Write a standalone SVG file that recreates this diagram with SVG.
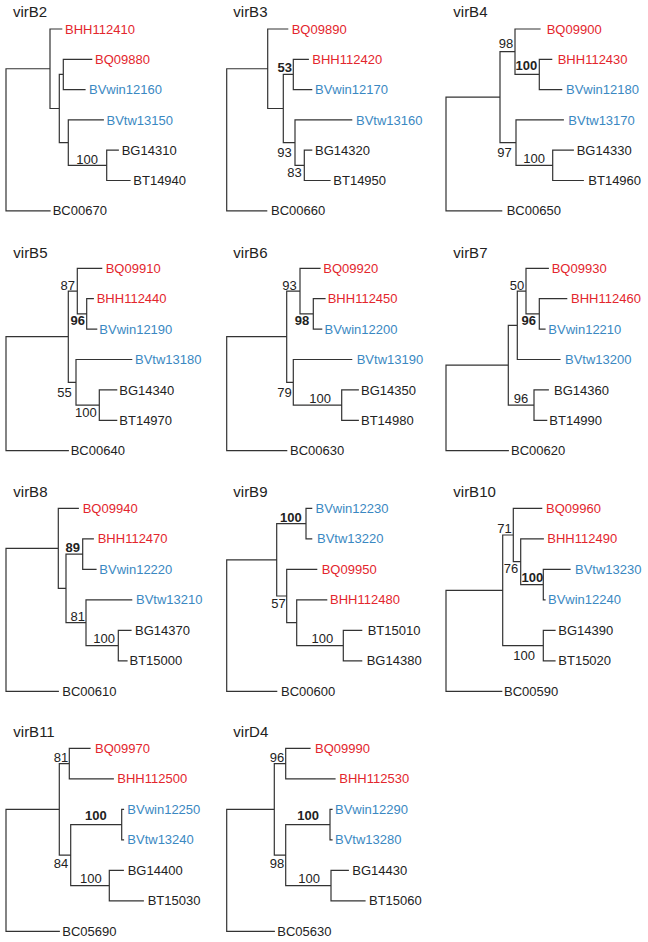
<svg xmlns="http://www.w3.org/2000/svg" width="648" height="942" viewBox="0 0 648 942">
<style>
text{font-family:"Liberation Sans",Arial,Helvetica,sans-serif;font-size:13px;fill:#222}
.t{font-size:15px}
.r{fill:#e3262d}
.b{fill:#3a88c2}
.s{text-anchor:end}
.w{font-weight:bold}
.br{fill:none;stroke:#333;stroke-width:1.2;stroke-linecap:square}
</style>
<rect width="648" height="942" fill="#fff"/>

<!-- virB2 -->
<g id="virB2" transform="translate(0,0)">
<g class="connectors"><path class="br" d="M50,68.75H6V210.8H50M61.7,29H50V108.5H59.3M63.3,74.45H59.3V142.6H68.3M91.7,59.3H63.3V89.6H85M103.3,119.9H68.3V165.35H106.7M118.3,150.2H106.7V180.5H130"/></g>
<text class="t" x="13" y="16.7">virB2</text>
<text id="BHH112410" class="r" x="65" y="33.6">BHH112410</text>
<text id="BQ09880" class="r" x="95" y="63.9">BQ09880</text>
<text id="BVwin12160" class="b" x="89" y="94.2">BVwin12160</text>
<text id="BVtw13150" class="b" x="106.5" y="124.5">BVtw13150</text>
<text id="BG14310" x="121.7" y="154.8">BG14310</text>
<text id="BT14940" x="133.3" y="185.1">BT14940</text>
<text id="BC00670" x="52.7" y="215.4">BC00670</text>
<text class="s" x="98" y="163.5">100</text>
</g>

<!-- virB3 -->
<g id="virB3" transform="translate(215,0)">
<g class="connectors"><path class="br" d="M52.7,68.75H11.7V210.8H51.7M72.7,29H52.7V108.5H68.3M78.3,74.45H68.3V142.6H80M93.3,59.3H78.3V89.6H96.7M136.7,119.9H80V165.35H89.3M96.7,150.2H89.3V180.5H115"/></g>
<text class="t" x="18.3" y="16.7">virB3</text>
<text id="BQ09890" class="r" x="76.7" y="33.6">BQ09890</text>
<text id="BHH112420" class="r" x="97.3" y="63.9">BHH112420</text>
<text id="BVwin12170" class="b" x="100" y="94.2">BVwin12170</text>
<text id="BVtw13160" class="b" x="141" y="124.5">BVtw13160</text>
<text id="BG14320" x="100" y="154.8">BG14320</text>
<text id="BT14950" x="118.3" y="185.1">BT14950</text>
<text id="BC00660" x="56" y="215.4">BC00660</text>
<text class="s w" x="77" y="71.7">53</text>
<text class="s" x="76.7" y="157.3">93</text>
<text class="s" x="86.7" y="176.7">83</text>
</g>

<!-- virB4 -->
<g id="virB4" transform="translate(430,0)">
<g class="connectors"><path class="br" d="M70,97.15H16V210.8H71.7M85,51.7H70V142.6H86M110,29H85V74.45H109.3M121.7,59.3H109.3V89.6H131.7M133.3,119.9H86V165.35H122.7M143.3,150.2H122.7V180.5H153.3"/></g>
<text class="t" x="23.3" y="16.7">virB4</text>
<text id="BQ09900" class="r" x="116.7" y="33.6">BQ09900</text>
<text id="BHH112430" class="r" x="127.7" y="63.9">BHH112430</text>
<text id="BVwin12180" class="b" x="136" y="94.2">BVwin12180</text>
<text id="BVtw13170" class="b" x="138.3" y="124.5">BVtw13170</text>
<text id="BG14330" x="146.7" y="154.8">BG14330</text>
<text id="BT14960" x="158.3" y="185.1">BT14960</text>
<text id="BC00650" x="76.7" y="215.4">BC00650</text>
<text class="s" x="83.3" y="48.3">98</text>
<text class="s w" x="107.3" y="70">100</text>
<text class="s" x="81.7" y="156.7">97</text>
<text class="s" x="115" y="163.3">100</text>
</g>

<!-- virB5 -->
<g id="virB5" transform="translate(0,230)">
<g class="connectors"><path class="br" d="M68.3,106.7H6V220.7H68.3M77.3,61.1H68.3V152.3H76M101.7,38.3H77.3V83.9H86.7M93.3,68.7H86.7V99.1H96.7M131.7,129.5H76V175.1H99.3M116.7,159.9H99.3V190.3H116.7"/></g>
<text class="t" x="13.3" y="28.3">virB5</text>
<text id="BQ09910" class="r" x="105.7" y="42.9">BQ09910</text>
<text id="BHH112440" class="r" x="96.7" y="73.3">BHH112440</text>
<text id="BVwin12190" class="b" x="99.3" y="103.7">BVwin12190</text>
<text id="BVtw13180" class="b" x="135" y="134.1">BVtw13180</text>
<text id="BG14340" x="119.3" y="164.5">BG14340</text>
<text id="BT14970" x="119.3" y="194.9">BT14970</text>
<text id="BC00640" x="70.7" y="225.3">BC00640</text>
<text class="s" x="75" y="60">87</text>
<text class="s w" x="85" y="95">96</text>
<text class="s" x="71.7" y="166.7">55</text>
<text class="s" x="96.7" y="186.7">100</text>
</g>

<!-- virB6 -->
<g id="virB6" transform="translate(215,230)">
<g class="connectors"><path class="br" d="M71.7,106.7H11.7V220.7H71.7M85,61.1H71.7V152.3H78.3M105,38.3H85V83.9H98.3M110,68.7H98.3V99.1H106.7M136.7,129.5H78.3V175.1H126.7M143.3,159.9H126.7V190.3H143.3"/></g>
<text class="t" x="18.3" y="28.3">virB6</text>
<text id="BQ09920" class="r" x="108.3" y="42.9">BQ09920</text>
<text id="BHH112450" class="r" x="112.7" y="73.3">BHH112450</text>
<text id="BVwin12200" class="b" x="109.5" y="103.7">BVwin12200</text>
<text id="BVtw13190" class="b" x="141.7" y="134.1">BVtw13190</text>
<text id="BG14350" x="146" y="164.5">BG14350</text>
<text id="BT14980" x="146" y="194.9">BT14980</text>
<text id="BC00630" x="75" y="225.3">BC00630</text>
<text class="s" x="81.7" y="60">93</text>
<text class="s w" x="94.3" y="95">98</text>
<text class="s" x="76.7" y="166.7">79</text>
<text class="s" x="116" y="172.5">100</text>
</g>

<!-- virB7 -->
<g id="virB7" transform="translate(430,230)">
<g class="connectors"><path class="br" d="M78.3,135.2H16V220.7H78.3M87.3,95.3H78.3V175.1H104M96,61.1H87.3V129.5H130M118.3,38.3H96V83.9H109.3M136.7,68.7H109.3V99.1H115M118.3,159.9H104V190.3H116.7"/></g>
<text class="t" x="23.3" y="28.3">virB7</text>
<text id="BQ09930" class="r" x="121.7" y="42.9">BQ09930</text>
<text id="BHH112460" class="r" x="141" y="73.3">BHH112460</text>
<text id="BVwin12210" class="b" x="118.3" y="103.7">BVwin12210</text>
<text id="BVtw13200" class="b" x="135" y="134.1">BVtw13200</text>
<text id="BG14360" x="124" y="164.5">BG14360</text>
<text id="BT14990" x="119.3" y="194.9">BT14990</text>
<text id="BC00620" x="81" y="225.3">BC00620</text>
<text class="s" x="94.3" y="60">50</text>
<text class="s w" x="106" y="95">96</text>
<text class="s" x="98.3" y="173.3">96</text>
</g>

<!-- virB8 -->
<g id="virB8" transform="translate(0,465)">
<g class="connectors"><path class="br" d="M58.3,83.35H6V226.3H58.3M78.3,43.3H58.3V123.4H66M82.7,89.05H66V157.7H86M93.3,73.8H82.7V104.3H96M131.7,134.8H86V180.55H118.3M131,165.3H118.3V195.8H127"/></g>
<text class="t" x="13.3" y="31.7">virB8</text>
<text id="BQ09940" class="r" x="82.7" y="47.9">BQ09940</text>
<text id="BHH112470" class="r" x="97.7" y="78.4">BHH112470</text>
<text id="BVwin12220" class="b" x="99.3" y="108.9">BVwin12220</text>
<text id="BVtw13210" class="b" x="136" y="139.4">BVtw13210</text>
<text id="BG14370" x="135" y="169.9">BG14370</text>
<text id="BT15000" x="129.5" y="200.4">BT15000</text>
<text id="BC00610" x="62.3" y="230.9">BC00610</text>
<text class="s w" x="80" y="86.7">89</text>
<text class="s" x="85" y="155.5">81</text>
<text class="s" x="115" y="178">100</text>
</g>

<!-- virB9 -->
<g id="virB9" transform="translate(215,465)">
<g class="connectors"><path class="br" d="M61.7,94.8H11.7V226.3H61.7M91,58.55H61.7V131H71.7M96.7,43.3H91V73.8H96.7M101.7,104.3H71.7V157.7H81.7M111.7,134.8H81.7V180.55H128.3M146.7,165.3H128.3V195.8H146.7"/></g>
<text class="t" x="18.3" y="31.7">virB9</text>
<text id="BVwin12230" class="b" x="100.5" y="47.9">BVwin12230</text>
<text id="BVtw13220" class="b" x="102" y="78.4">BVtw13220</text>
<text id="BQ09950" class="r" x="106.7" y="108.9">BQ09950</text>
<text id="BHH112480" class="r" x="115" y="139.4">BHH112480</text>
<text id="BT15010" x="152.7" y="169.9">BT15010</text>
<text id="BG14380" x="151.7" y="200.4">BG14380</text>
<text id="BC00600" x="66" y="230.9">BC00600</text>
<text class="s w" x="86.7" y="56.7">100</text>
<text class="s" x="70.7" y="143.3">57</text>
<text class="s" x="118.3" y="178">100</text>
</g>

<!-- virB10 -->
<g id="virB10" transform="translate(430,465)">
<g class="connectors"><path class="br" d="M72.7,125.3H16V226.3H71.7M83.3,70H72.7V180.55H113.3M111.7,43.3H83.3V96.7H90.7M113.3,73.8H90.7V119.55H113.3M140,104.3H113.3V134.8H115M125,165.3H113.3V195.8H125"/></g>
<text class="t" x="23.3" y="31.7">virB10</text>
<text id="BQ09960" class="r" x="116" y="47.9">BQ09960</text>
<text id="BHH112490" class="r" x="117.3" y="78.4">BHH112490</text>
<text id="BVtw13230" class="b" x="145" y="108.9">BVtw13230</text>
<text id="BVwin12240" class="b" x="118" y="139.4">BVwin12240</text>
<text id="BG14390" x="128.3" y="169.9">BG14390</text>
<text id="BT15020" x="128.3" y="200.4">BT15020</text>
<text id="BC00590" x="74" y="230.9">BC00590</text>
<text class="s" x="81.7" y="68.3">71</text>
<text class="s" x="88.3" y="108.3">76</text>
<text class="s w" x="113.3" y="116.7">100</text>
<text class="s" x="105" y="195">100</text>
</g>

<!-- virB11 -->
<g id="virB11" transform="translate(0,705)">
<g class="connectors"><path class="br" d="M59.3,104.3H6V226.3H59.3M69.3,58.55H59.3V150.05H70.7M90,43.3H69.3V73.8H113.3M121.7,119.55H70.7V180.55H109.3M123.5,104.3H121.7V134.8H123.5M123.3,165.3H109.3V195.8H143.3"/></g>
<text class="t" x="13.3" y="31.7">virB11</text>
<text id="BQ09970" class="r" x="95" y="47.9">BQ09970</text>
<text id="BHH112500" class="r" x="117.3" y="78.4">BHH112500</text>
<text id="BVwin12250" class="b" x="127.3" y="108.9">BVwin12250</text>
<text id="BVtw13240" class="b" x="127.3" y="139.4">BVtw13240</text>
<text id="BG14400" x="127.7" y="169.9">BG14400</text>
<text id="BT15030" x="147.7" y="200.4">BT15030</text>
<text id="BC05690" x="62.3" y="230.9">BC05690</text>
<text class="s" x="68.3" y="56.7">81</text>
<text class="s w" x="106.7" y="115">100</text>
<text class="s" x="68.3" y="163.3">84</text>
<text class="s" x="101.7" y="178">100</text>
</g>

<!-- virD4 -->
<g id="virD4" transform="translate(215,705)">
<g class="connectors"><path class="br" d="M59.3,104.3H11.7V226.3H59.3M70.7,58.55H59.3V150.05H70.7M95,43.3H70.7V73.8H120M115,119.55H70.7V180.55H116M117,104.3H115V134.8H117M133.3,165.3H116V195.8H150"/></g>
<text class="t" x="18.3" y="31.7">virD4</text>
<text id="BQ09990" class="r" x="100" y="47.9">BQ09990</text>
<text id="BHH112530" class="r" x="124.3" y="78.4">BHH112530</text>
<text id="BVwin12290" class="b" x="120" y="108.9">BVwin12290</text>
<text id="BVtw13280" class="b" x="120" y="139.4">BVtw13280</text>
<text id="BG14430" x="137.3" y="169.9">BG14430</text>
<text id="BT15060" x="154" y="200.4">BT15060</text>
<text id="BC05630" x="62.3" y="230.9">BC05630</text>
<text class="s" x="69.3" y="56.7">96</text>
<text class="s w" x="104" y="115">100</text>
<text class="s" x="69.3" y="163.3">98</text>
<text class="s" x="105" y="178">100</text>
</g>
</svg>
